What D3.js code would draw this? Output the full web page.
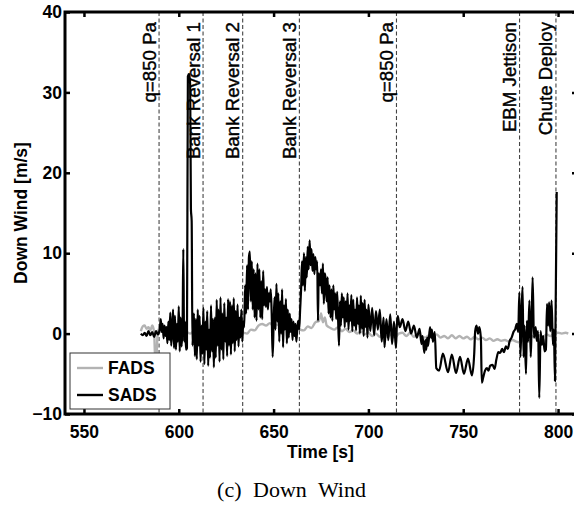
<!DOCTYPE html>
<html>
<head>
<meta charset="utf-8">
<script src="https://cdn.jsdelivr.net/npm/d3@7"></script>
<style>
  body { margin: 0; background: #fff; }
  svg { display: block; font-family: "Liberation Sans", Arial, Helvetica, sans-serif; }
</style>
</head>
<body>
<div id="chart"></div>
<script>
// values
const xTicks = [550, 600, 650, 700, 750, 800];
const yTicks = [-10, 0, 10, 20, 30, 40];

const eventTimes = [589.6, 612.8, 633.7, 663.6, 714.8, 779.7, 798.9];
const eventLabels = ["q=850 Pa", "Bank Reversal 1", "Bank Reversal 2", "Bank Reversal 3",
  "q=850 Pa", "EBM Jettison", "Chute Deploy"];

const seriesNames = ["FADS", "SADS"];

// [time, down wind]
const fads = [
  [580,0.3],[581,0.9],[582,1.0],[583,0.6],[584,0.8],[585,0.4],[586,1.0],[587,0.2],
  [587.6,-3.3],[588.2,-3.0],[588.8,-0.2],[589.5,0.6],[590.5,0.2],[592,0.5],[594,0.1],
  [596,0.4],[598,0.0],[600,0.3],[602,-0.2],[604,0.2],[606,0.0],[608,0.3],[610,-0.1],
  [612,0.2],[614,0.0],[616,0.4],[618,0.1],[620,0.5],[622,0.2],[624,0.6],[626,0.3],
  [628,0.0],[630,0.3],[632,-0.2],[634,0.1],[636,0.0],[638,0.5],[640,0.4],[642,1.0],
  [644,1.2],[646,1.0],[648,1.3],[650,0.9],[652,1.1],[654,1.3],[656,0.9],[658,1.2],
  [660,0.8],[662,0.9],[664,0.5],[666,0.4],[668,0.9],[670,0.7],[672,1.4],[674,1.6],
  [675,2.5],[676,1.4],[677,2.0],[678,1.0],[680,0.7],[682,0.5],[684,0.8],[686,0.3],
  [688,0.6],[690,0.2],[692,0.4],[694,0.0],[696,0.3],[698,-0.1],[700,0.1],[702,-0.3],
  [704,0.0],[706,-0.4],[708,-0.1],[710,-0.4],[712,-0.1],[714,-0.5],[716,0.0],[718,0.1],
  [720,-0.3],[722,0.1],[724,-0.4],[726,0.0],[728,-0.3],[730,-0.5],[732,-0.2],[734,-0.5],
  [736,-0.1],[738,-0.5],[740,-0.3],[742,-0.6],[744,-0.2],[746,-0.6],[748,-0.3],[750,-0.6],
  [752,-0.4],[754,-0.7],[756,-0.4],[758,-0.7],[760,-0.5],[762,-0.8],[764,-0.6],[766,-0.9],
  [768,-0.7],[770,-0.9],[772,-0.8],[774,-1.0],[776,-0.8],[778,-1.0],[780,-1.1],[782,-0.7],
  [784,-0.5],[786,-0.3],[788,-0.5],[790,-0.2],[792,-0.4],[794,-0.1],[796,-0.3],[798,0.0],
  [800,0.1],[802,0.0],[804,0.1],[805.4,0.0]
];

const sads = [
  [580,0.0],[581,-0.2],[582,0.1],[583,-0.3],[584,0.3],[585,-0.2],[586,0.2],[587,-0.4],
  [588,0.3],[589,-0.1],[590,0.6],
  [590.5,1.8],[591,0.2],[591.5,1.2],[592,-0.6],[592.5,1.0],[593,-0.3],[593.5,0.8],[594,-1.2],
  [594.5,1.5],[595,-0.8],[595.5,2.6],[596,-1.5],[596.5,0.5],[597,3.0],[597.5,-1.8],[598,2.2],
  [598.5,-2.0],[599,1.2],[599.5,-1.0],[600,3.4],[600.5,-2.2],[601,2.0],[601.5,-1.6],[602,1.0],
  [602.4,10.5],[602.8,-1.0],[603.3,1.5],[603.8,-2.0],[604.3,-1.8],[604.8,32.0],[605.5,32.3],
  [606.0,31.0],[606.4,15.5],[606.8,14.0],[607.2,-1.5],
  [608.0,2.5],[608.5,-2.8],[609.0,1.8],[609.5,-3.2],[610.0,3.0],[610.5,-1.5],[611.0,2.2],
  [611.5,-3.5],[612.0,1.0],[612.5,-2.5],[613.0,3.2],[613.5,-3.8],[614.0,1.5],[614.5,-2.0],
  [615.0,2.8],[615.5,-4.0],[616.0,0.5],[616.5,-3.0],[617.0,3.5],[617.5,-2.2],[618.0,1.8],
  [618.5,-4.2],[619.0,2.0],[619.5,-3.0],[620.0,4.2],[620.5,-1.5],[621.0,3.0],[621.5,-3.5],
  [622.0,4.5],[622.5,-2.0],[623.0,2.5],[623.5,-3.2],[624.0,3.8],[624.5,-1.0],[625.0,2.0],
  [625.5,-2.8],[626.0,4.3],[626.5,-1.5],[627.0,4.0],[627.5,-2.6],[628.0,3.5],[628.5,-1.2],
  [629.0,4.4],[629.5,-2.2],[630.0,2.8],[630.5,-0.8],[631.0,3.6],[631.5,-1.6],[632.0,2.0],
  [632.5,-0.5],[633.0,3.0],[633.5,-1.0],[634.0,1.5],
  [634.5,0.8],[635.0,6.0],[635.5,2.5],[636.0,8.5],[636.5,3.0],[637.0,9.5],[637.5,10.2],
  [638.0,4.0],[638.5,9.0],[639.0,3.0],[639.5,8.0],[640.0,2.0],[640.5,7.5],[641.0,1.6],
  [641.5,8.7],[642.0,3.0],[642.5,8.0],[643.0,2.0],[643.5,6.5],[644.0,1.8],[644.5,7.8],
  [645.0,3.5],[645.5,5.5],[646.0,3.3],[646.5,5.8],[647.0,3.0],[647.5,5.0],[648.0,4.0],
  [648.5,5.5],[649.0,2.5],[649.5,-2.9],[650.0,1.0],[650.5,4.5],[651.0,0.5],[651.5,6.2],
  [652.0,1.5],[652.5,5.0],[653.0,-1.0],[653.5,4.0],[654.0,0.0],[654.5,5.5],[655.0,-1.7],
  [655.5,3.5],[656.0,0.5],[656.5,4.3],[657.0,-1.2],[657.5,3.0],[658.0,-0.5],[658.5,2.5],
  [659.0,0.2],[659.5,1.8],[660.0,-0.8],[660.5,1.5],[661.0,-0.3],[661.5,1.2],[662.0,-1.0],
  [662.5,0.8],[663.0,1.6],[663.5,0.5],[664.0,3.0],
  [664.5,5.5],[665.0,9.0],[665.5,6.0],[666.0,10.0],[666.5,5.3],[667.0,9.5],[667.5,7.0],
  [668.0,10.8],[668.5,8.0],[669.0,11.6],[669.5,8.5],[670.0,10.5],[670.5,7.8],[671.0,9.9],
  [671.5,7.4],[672.0,9.5],[672.5,8.0],[673.0,9.0],[673.4,1.6],[673.8,7.5],[674.5,6.0],
  [675.0,8.0],[675.5,5.0],[676.0,8.7],[676.5,3.7],[677.0,7.5],[677.5,6.6],[678.0,4.0],
  [678.5,7.0],[679.0,2.5],[679.5,6.0],[680.0,2.0],[680.5,5.5],[681.0,1.6],[681.5,6.0],
  [682.0,3.0],[682.5,5.0],[683.0,1.8],[683.5,5.2],[684.0,2.0],[684.5,-1.5],[685.0,4.0],
  [685.5,1.0],[686.0,5.0],[686.5,2.0],[687.0,4.5],[687.5,0.8],[688.0,4.0],[688.5,1.5],
  [689.0,5.0],[689.5,0.5],[690.0,3.5],[690.5,1.6],[691.0,4.8],[691.5,0.3],[692.0,4.2],
  [692.5,1.0],[693.0,3.0],[693.5,0.4],[694.0,4.5],[694.5,1.2],[695.0,3.5],[695.5,0.0],
  [696.0,4.7],[696.5,0.6],[697.0,3.8],[697.5,-0.3],[698.0,4.2],[698.5,0.8],[699.0,3.0],
  [699.5,-0.5],[700.0,3.6],
  [701,0.3],[702,3.2],[703,-0.2],[704,2.8],[705,0.5],[706,3.0],[707,-1.0],[708,2.0],
  [708.5,-1.7],[709.5,1.8],[710.5,-0.8],[711.5,2.4],[712.5,-1.3],[713.5,1.5],[714.5,-1.8],
  [715,1.0],[715.5,2.2],[716.5,0.8],[718,1.8],[719.5,0.3],[721,1.5],[722.5,0.0],[724,1.0],
  [725.5,-0.5],[727,0.6],[728,-1.3],[728.5,-0.3],[729.5,-2.4],[730,-0.8],[730.5,-2.0],
  [731,-0.5],[731.5,-1.5],[732.5,0.8],[733,-0.5],[733.5,0.5],[734,-1.0],[735,0.2],
  [735.8,-4.3],[737.3,-4.6],[739.3,-2.5],[742,-4.8],[744,-2.6],[746.2,-4.9],[748.3,-2.9],
  [750.4,-5.0],[752.5,-3.1],[754.6,-5.2],[755.8,-2.5],[756.3,0.3],[757,1.0],[757.8,0.0],
  [758.5,0.8],[759.3,-0.5],[759.8,-6.1],[760.5,-5.5],[761.5,-4.6],[762.5,-4.3],[763.3,-4.6],
  [764.2,-4.0],[765.5,-3.9],[766.5,-4.4],[767.5,-3.2],[768.5,-2.3],[769.5,-2.4],[770.5,-1.9],
  [771.5,-2.3],[772.5,-1.6],[773.5,-1.9],[774.5,-0.9],[775.5,-0.5],[776.5,0.2],[777.5,0.6],
  [778.2,1.2],[779,0.2],
  [779.6,5.1],[780.2,-2.9],[780.8,3.0],[781.3,5.8],[781.8,-2.9],[782.3,1.0],[783.1,-5.0],
  [783.6,1.6],[784.2,-1.0],[784.9,4.1],[785.6,-2.9],[786.0,0.5],[786.6,7.0],[787.3,-0.5],
  [788.2,0.8],[788.8,-0.9],[789.5,0.3],[790.1,-8.0],[790.8,0.3],[791.5,-1.4],[792.2,-0.3],
  [792.9,-2.2],[793.6,-2.0],[794.2,3.7],[794.8,1.0],[795.3,3.9],[795.9,0.3],[796.6,4.1],
  [797.3,-1.4],[797.8,0.5],[798.4,-5.9],[799.3,17.6]
];

const W = 574, H = 512;
const plot = { left: 65, right: 577, top: 12, bottom: 414 };

const svg = d3.select("#chart").append("svg")
  .attr("width", W)
  .attr("height", H);

const x = d3.scaleLinear().domain([540, 810]).range([plot.left, plot.right]);
const y = d3.scaleLinear().domain([-10, 40]).range([plot.bottom, plot.top]);

svg.append("clipPath").attr("id", "clip")
  .append("rect")
  .attr("x", plot.left).attr("y", plot.top)
  .attr("width", plot.right - plot.left).attr("height", plot.bottom - plot.top);

// event lines
const ev = svg.append("g").attr("class", "events");
eventTimes.forEach((t, i) => {
  ev.append("line")
    .attr("x1", x(t)).attr("x2", x(t))
    .attr("y1", plot.top).attr("y2", plot.bottom)
    .attr("stroke", "#444")
    .attr("stroke-width", 1.1)
    .attr("stroke-dasharray", "4,2.5");
});

const line = d3.line()
  .curve(d3.curveMonotoneX)
  .x(d => x(d[0])).y(d => y(d[1]));

const dataG = svg.append("g").attr("clip-path", "url(#clip)");
dataG.append("path")
  .datum(fads)
  .attr("fill", "none")
  .attr("stroke", "#b3b3b3")
  .attr("stroke-width", 2.4)
  .attr("stroke-linejoin", "round")
  .attr("d", line);

dataG.append("path")
  .datum(sads)
  .attr("fill", "none")
  .attr("stroke", "#000")
  .attr("stroke-width", 2.2)
  .attr("stroke-linejoin", "round")
  .attr("d", line);

// event labels
eventTimes.forEach((t, i) => {
  ev.append("text")
    .attr("transform", `translate(${x(t) - 3.5},22) rotate(-90)`)
    .attr("text-anchor", "end")
    .attr("font-size", "18.7px")
    .attr("fill", "#000")
    .attr("stroke", "#000")
    .attr("stroke-width", 0.4)
    .text(eventLabels[i]);
});

// axes, ticks inward on all four sides
const axisStyle = g => {
  g.select(".domain").remove();
  g.selectAll(".tick line").attr("stroke", "#000").attr("stroke-width", 2.5);
  g.selectAll(".tick text").attr("fill", "#000")
    .attr("font-size", "17.5px").attr("font-weight", "bold")
    .attr("font-family", "'Liberation Sans', Arial, Helvetica, sans-serif");
};

svg.append("g")
  .attr("transform", `translate(0,${plot.bottom})`)
  .call(d3.axisBottom(x).tickValues(xTicks).tickSize(-5).tickPadding(12).tickSizeOuter(0))
  .call(axisStyle);

svg.append("g")
  .attr("transform", `translate(0,${plot.top})`)
  .call(d3.axisTop(x).tickValues(xTicks).tickSize(-5).tickFormat("").tickSizeOuter(0))
  .call(axisStyle);

svg.append("g")
  .attr("transform", `translate(${plot.left},0)`)
  .call(d3.axisLeft(y).tickValues(yTicks).tickSize(-5).tickPadding(3).tickSizeOuter(0))
  .call(axisStyle);

svg.append("g")
  .attr("transform", `translate(${plot.right},0)`)
  .call(d3.axisRight(y).tickValues(yTicks).tickSize(-5).tickFormat("").tickSizeOuter(0))
  .call(axisStyle);

svg.append("rect")
  .attr("x", plot.left).attr("y", plot.top)
  .attr("width", plot.right - plot.left).attr("height", plot.bottom - plot.top)
  .attr("fill", "none")
  .attr("stroke", "#000")
  .attr("stroke-width", 3);

// axis titles
svg.append("text")
  .attr("x", (plot.left + plot.right) / 2 - 0.5)
  .attr("y", 458)
  .attr("text-anchor", "middle")
  .attr("font-size", "17.5px")
  .attr("font-weight", "bold")
  .text("Time [s]");

svg.append("text")
  .attr("transform", `translate(26.5,${(plot.top + plot.bottom) / 2}) rotate(-90)`)
  .attr("text-anchor", "middle")
  .attr("font-size", "17.5px")
  .attr("font-weight", "bold")
  .text("Down Wind [m/s]");

// legend
const leg = svg.append("g").attr("transform", "translate(70,353)");
leg.append("rect")
  .attr("width", 100).attr("height", 56)
  .attr("fill", "#fff")
  .attr("stroke", "#333")
  .attr("stroke-width", 1);
const legColors = ["#b3b3b3", "#000"];
seriesNames.forEach((name, i) => {
  const yy = 15 + i * 27;
  leg.append("line")
    .attr("x1", 7).attr("x2", 33)
    .attr("y1", yy).attr("y2", yy)
    .attr("stroke", legColors[i])
    .attr("stroke-width", 2.4);
  leg.append("text")
    .attr("x", 38).attr("y", yy + 6.3)
    .attr("font-size", "17.5px")
    .attr("font-weight", "bold")
    .text(name);
});

// caption
svg.append("text")
  .attr("x", 291.5)
  .attr("y", 497)
  .attr("text-anchor", "middle")
  .attr("font-family", "'Liberation Serif', 'DejaVu Serif', serif")
  .attr("font-size", "22px")
  .attr("word-spacing", "6px")
  .text("(c) Down Wind");
</script>
</body>
</html>
